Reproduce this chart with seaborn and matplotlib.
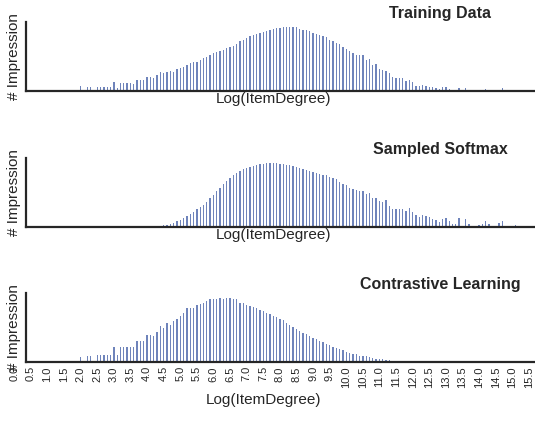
import numpy as np
import pandas as pd
import seaborn as sns
import matplotlib.pyplot as plt

# ---------------- data ----------------
# categories: Log(ItemDegree) bins of width 0.1, from 0.0 to 15.6
bin_labels = ["%.1f" % (i / 10) for i in range(157)]
tick_labels = ["0.0", "0.5", "1.0", "1.5", "2.0", "2.5", "3.0", "3.5", "4.0", "4.5",
               "5.0", "5.5", "6.0", "6.5", "7.0", "7.5", "8.0", "8.5", "9.0", "9.5",
               "10.0", "10.5", "11.0", "11.5", "12.0", "12.5", "13.0", "13.5", "14.0",
               "14.5", "15.0", "15.5"]

training = [0] * 20 + [
    15, 0, 13, 13, 0, 12, 12, 12, 12, 11,            # 2.0 - 2.9
    27, 8, 23, 23, 22, 22, 21, 33, 32, 31,           # 3.0 - 3.9
    40, 40, 38, 48, 55, 53, 55, 60, 57, 63,          # 4.0 - 4.9
    67, 70, 75, 83, 84, 86, 92, 97, 100, 105,        # 5.0 - 5.9
    110, 113, 118, 121, 125, 128, 133, 137, 145, 150,  # 6.0 - 6.9
    155, 160, 165, 168, 171, 174, 177, 179, 182, 184,  # 7.0 - 7.9
    185, 186, 187, 188, 187, 186, 182, 180, 178, 176,  # 8.0 - 8.9
    170, 167, 164, 160, 157, 150, 146, 142, 137, 128,  # 9.0 - 9.9
    122, 117, 112, 106, 105, 104, 90, 94, 77, 79,      # 10.0 - 10.9
    65, 62, 60, 53, 42, 37, 37, 38, 30, 32,            # 11.0 - 11.9
    25, 15, 15, 19, 15, 12, 12, 10, 7, 11,             # 12.0 - 12.9
    11, 6, 0, 0, 8, 0, 8, 0, 0, 0,                     # 13.0 - 13.9
    0, 3, 5, 0, 0, 0, 3, 8, 0, 0,                      # 14.0 - 14.9
    2, 2, 0, 0, 0, 0, 0,                               # 15.0 - 15.6
]

sampled_softmax = [0] * 42 + [
    2, 3, 4, 5, 7, 9, 12, 17,                          # 4.2 - 4.9
    22, 28, 34, 40, 46, 53, 60, 67, 76, 86,            # 5.0 - 5.9
    96, 107, 118, 128, 138, 147, 155, 162, 168, 173,   # 6.0 - 6.9
    177, 181, 184, 187, 189, 190, 191, 192, 193, 192,  # 7.0 - 7.9
    190, 189, 187, 185, 182, 180, 178, 174, 172, 168,  # 8.0 - 8.9
    164, 162, 160, 157, 155, 150, 146, 143, 135, 130,  # 9.0 - 9.9
    125, 118, 113, 110, 108, 107, 98, 101, 88, 88,     # 10.0 - 10.9
    79, 74, 82, 64, 55, 55, 55, 55, 49, 57,            # 11.0 - 11.9
    44, 35, 30, 36, 32, 29, 25, 22, 14, 24,            # 12.0 - 12.9
    26, 19, 10, 10, 28, 0, 23, 9, 0, 3,                # 13.0 - 13.9
    7, 10, 17, 9, 0, 3, 12, 19, 0, 0,                  # 14.0 - 14.9
    3, 5, 0, 0, 0, 0, 0,                               # 15.0 - 15.6
]

contrastive = [0] * 20 + [
    16, 0, 18, 18, 0, 20, 20, 20, 20, 20,              # 2.0 - 2.9
    45, 21, 45, 45, 44, 44, 43, 63, 62, 61,            # 3.0 - 3.9
    80, 80, 76, 90, 106, 101, 116, 110, 120, 128,      # 4.0 - 4.9
    136, 145, 160, 160, 161, 168, 172, 176, 180, 186,  # 5.0 - 5.9
    188, 187, 190, 188, 189, 189, 187, 187, 176, 176,  # 6.0 - 6.9
    170, 166, 164, 160, 155, 150, 146, 141, 137, 132,  # 7.0 - 7.9
    127, 123, 116, 110, 103, 98, 93, 87, 82, 76,       # 8.0 - 8.9
    72, 68, 62, 58, 54, 49, 45, 42, 38, 35,            # 9.0 - 9.9
    31, 28, 25, 23, 19, 18, 17, 14, 11, 10,            # 10.0 - 10.9
    9, 8, 6, 5, 4, 3, 3, 2, 2, 1.5,                    # 11.0 - 11.9
    0, 0, 0, 0, 0, 0, 0, 0, 0, 0,                      # 12.0 - 12.9
    0, 0, 0, 0, 0, 0, 0, 0, 0, 0,                      # 13.0 - 13.9
    0, 0, 0, 0, 0, 0, 0, 0, 0, 0,                      # 14.0 - 14.9
    0, 0, 0, 0, 0, 0, 0,                               # 15.0 - 15.6
]

titles = ["Training Data", "Sampled Softmax", "Contrastive Learning"]
series = [training, sampled_softmax, contrastive]

# ---------------- style ----------------
sns.set_theme(style="white")
plt.rcParams['font.family'] = ['Liberation Sans', 'DejaVu Sans']
text_color = "#262626"
bar_color = "#5F77B4"

fig = plt.figure(figsize=(5.35, 4.26), dpi=100)
left = 12.6 / 535
width = 522.4 / 535
bottoms = [0.7864, 0.4671, 0.1502]
height = 0.162
xmax = 156.85

for k, (title, vals) in enumerate(zip(titles, series)):
    ax = fig.add_axes([left, bottoms[k], width, height])
    df = pd.DataFrame({"bin": bin_labels, "impression": vals})
    sns.barplot(data=df, x="bin", y="impression", color=bar_color, saturation=1,
                width=0.4, errorbar=None, ax=ax, linewidth=0, alpha=0.9)
    ax.set_xlim(-0.5, xmax)
    ax.set_ylim(0, max(vals) / 0.93)
    for s in ["top", "right"]:
        ax.spines[s].set_visible(False)
    ax.spines["left"].set_position(("data", 3.5))
    ax.spines["bottom"].set_bounds(3.5, xmax)
    for s in ["left", "bottom"]:
        ax.spines[s].set_color(text_color)
        ax.spines[s].set_linewidth(1.6)
        ax.spines[s].set_zorder(5)
    ax.set_yticks([])
    ax.set_ylabel("# Impression", fontsize=11, color=text_color)
    ax.yaxis.set_label_coords(0.016, 0.5)
    ax.set_title(title, x=0.818, fontsize=11.5, fontweight="bold",
                 color=text_color, pad=3)
    if k < 2:
        ax.set_xticks([])
        ax.set_xlabel("Log(ItemDegree)", fontsize=11, color=text_color, labelpad=1)
    else:
        ax.set_xticks(range(0, 157, 5))
        ax.set_xticklabels(tick_labels, rotation=90, fontsize=8, color=text_color)
        ax.tick_params(axis="x", length=0, pad=3)
        ax.set_xlabel("Log(ItemDegree)", fontsize=11, color=text_color)
        ax.xaxis.set_label_coords(0.481, -0.449)

fig.savefig("out.png", dpi=100)
